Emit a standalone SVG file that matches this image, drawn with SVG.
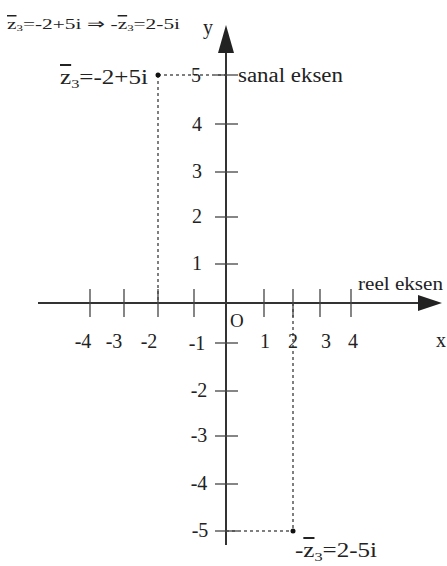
<svg xmlns="http://www.w3.org/2000/svg" width="447" height="566" viewBox="0 0 447 566">
<style>
text{font-family:"Liberation Serif","Times New Roman",serif;fill:#222}
.n{font-size:20px;text-anchor:middle}
.ax{stroke:#333;stroke-width:2;fill:none}
.tk{stroke:#444;stroke-width:1.3}
.d{stroke:#555;stroke-width:1.5;stroke-dasharray:3,3;fill:none}
.ol{text-decoration:overline}
</style>
<rect width="447" height="566" fill="#fff"/>
<g id="connectors">
<line class="d" x1="158" y1="75" x2="226" y2="75"/>
<line class="d" x1="158" y1="75" x2="158" y2="303"/>
<line class="d" x1="293" y1="303" x2="293" y2="531"/>
<line class="d" x1="226" y1="531" x2="293" y2="531"/>
</g>
<g id="x-axis">
<line class="ax" x1="38" y1="303" x2="422" y2="303"/>
<polygon points="442,303 418,295 418,311" fill="#222"/>
<g class="tk">
<line x1="90" y1="289" x2="90" y2="317"/>
<line x1="124" y1="289" x2="124" y2="317"/>
<line x1="158" y1="289" x2="158" y2="317"/>
<line x1="194" y1="289" x2="194" y2="317"/>
<line x1="264" y1="289" x2="264" y2="317"/>
<line x1="293" y1="289" x2="293" y2="317"/>
<line x1="320" y1="289" x2="320" y2="317"/>
<line x1="351" y1="289" x2="351" y2="317"/>
</g>
<text class="n" x="83" y="348">-4</text>
<text class="n" x="114" y="348">-3</text>
<text class="n" x="149" y="348">-2</text>
<text class="n" x="265" y="348">1</text>
<text class="n" x="293" y="348">2</text>
<text class="n" x="326" y="348">3</text>
<text class="n" x="353" y="348">4</text>
<text x="230" y="327" style="font-size:19px">O</text>
<text x="436" y="347" style="font-size:20px">x</text>
<text x="358" y="290" style="font-size:19px" textLength="85" lengthAdjust="spacingAndGlyphs">reel eksen</text>
</g>
<g id="y-axis">
<line class="ax" x1="226" y1="48" x2="226" y2="545"/>
<polygon points="226,25 218,53 234,53" fill="#222"/>
<g class="tk">
<line x1="215" y1="75" x2="238" y2="75"/>
<line x1="215" y1="124" x2="238" y2="124"/>
<line x1="215" y1="172" x2="238" y2="172"/>
<line x1="215" y1="217" x2="238" y2="217"/>
<line x1="215" y1="264" x2="238" y2="264"/>
<line x1="215" y1="343" x2="238" y2="343"/>
<line x1="215" y1="391" x2="238" y2="391"/>
<line x1="215" y1="436" x2="238" y2="436"/>
<line x1="215" y1="484" x2="238" y2="484"/>
<line x1="215" y1="531" x2="238" y2="531"/>
</g>
<text class="n" x="196" y="82">5</text>
<text class="n" x="197" y="131">4</text>
<text class="n" x="197" y="178">3</text>
<text class="n" x="197" y="223">2</text>
<text class="n" x="197" y="270">1</text>
<text class="n" x="197" y="350">-1</text>
<text class="n" x="199" y="397">-2</text>
<text class="n" x="199" y="442">-3</text>
<text class="n" x="199" y="490">-4</text>
<text class="n" x="200" y="537">-5</text>
<text x="203" y="34" style="font-size:20px">y</text>
<text x="238" y="82" style="font-size:20px" textLength="105" lengthAdjust="spacingAndGlyphs">sanal eksen</text>
</g>
<g id="point-z3bar">
<circle cx="158" cy="75" r="2.5" fill="#111"/>
<text x="60" y="84" style="font-size:20px" textLength="88" lengthAdjust="spacingAndGlyphs"><tspan class="ol">z</tspan><tspan style="font-size:13px" dy="4">3</tspan><tspan dy="-4">=-2+5i</tspan></text>
</g>
<g id="point-minus-z3bar">
<circle cx="293" cy="531" r="2.5" fill="#111"/>
<text x="295" y="557" style="font-size:20px" textLength="82" lengthAdjust="spacingAndGlyphs">-<tspan class="ol">z</tspan><tspan style="font-size:13px" dy="4">3</tspan><tspan dy="-4">=2-5i</tspan></text>
</g>
<g id="formula">
<text x="7" y="29" style="font-size:15px" textLength="173" lengthAdjust="spacingAndGlyphs"><tspan class="ol">z</tspan><tspan style="font-size:9px" dy="2">3</tspan><tspan dy="-2">=-2+5i ⇒ -</tspan><tspan class="ol">z</tspan><tspan style="font-size:9px" dy="2">3</tspan><tspan dy="-2">=2-5i</tspan></text>
</g>
</svg>
